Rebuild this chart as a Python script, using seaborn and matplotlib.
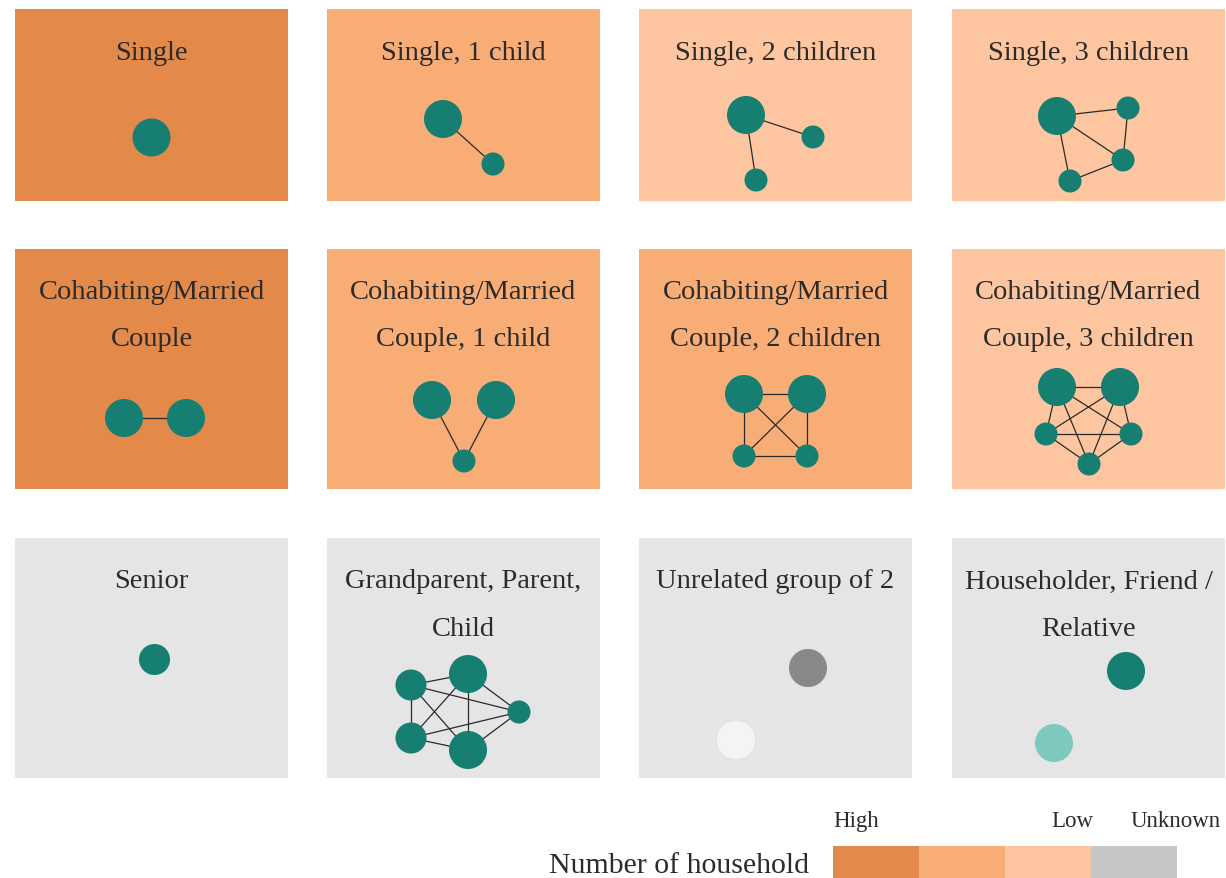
import numpy as np
import pandas as pd
import seaborn as sns
import matplotlib.pyplot as plt
from matplotlib.colors import ListedColormap

sns.set_theme(style="white")
plt.rcParams['font.family'] = ['Liberation Serif', 'DejaVu Serif']

# household types, one panel each (row by row)
titles = ["Single", "Single, 1 child", "Single, 2 children", "Single, 3 children",
          "Cohabiting/Married\nCouple", "Cohabiting/Married\nCouple, 1 child",
          "Cohabiting/Married\nCouple, 2 children", "Cohabiting/Married\nCouple, 3 children",
          "Senior", "Grandparent, Parent,\nChild", "Unrelated group of 2",
          "Householder, Friend /\nRelative"]
levels = ["High", "Mid", "Low", "Low",
          "High", "Mid", "Mid", "Low",
          "Unknown", "Unknown", "Unknown", "Unknown"]

# node positions inside each panel (panel pixels, y down)
node_x = [[136], [116, 166], [107, 174, 117], [105, 176, 171, 118],
          [109, 171], [105, 169, 137], [105, 168, 105, 168], [105, 168, 94, 179, 137],
          [139], [84, 141, 192, 84, 141], [169, 97], [174, 102]]
node_y = [[128], [110, 155], [106, 128, 171], [107, 99, 151, 172],
          [169, 169], [151, 151, 212], [145, 145, 207, 207], [138, 138, 185, 185, 215],
          [121], [147, 136, 174, 200, 212], [130, 202], [133, 205]]
node_role = [["big"], ["big", "small"], ["big", "small", "small"], ["big", "small", "small", "small"],
             ["big", "big"], ["big", "big", "small"], ["big", "big", "small", "small"],
             ["big", "big", "small", "small", "small"],
             ["mid"], ["mid", "big", "small", "mid", "big"], ["big", "big"], ["big", "big"]]
node_kind = [["member"] * len(r) for r in node_role]
node_kind[10] = ["unknown", "other"]
node_kind[11] = ["member", "relative"]

k4 = [(0, 1), (0, 2), (0, 3), (1, 2), (1, 3), (2, 3)]
k5 = [(0, 1), (0, 2), (0, 3), (0, 4), (1, 2), (1, 3), (1, 4), (2, 3), (2, 4), (3, 4)]
edges = [[], [(0, 1)], [(0, 1), (0, 2)], [(0, 1), (0, 2), (0, 3), (1, 2), (2, 3)],
         [(0, 1)], [(0, 2), (1, 2)], k4, k5,
         [], k5, [], []]

legend_labels = ["High", "Low", "Unknown"]

level_colors = {"High": "#E3894A", "Mid": "#F8AD76", "Low": "#FEC6A0", "Unknown": "#E5E5E5"}
legend_colors = ["#E3894A", "#F8AD76", "#FEC6A0", "#C6C6C6"]
node_colors = {"member": "#167F71", "unknown": "#888888", "other": "#F4F4F4", "relative": "#7EC8BD"}
node_sizes = {"big": 750, "mid": 500, "small": 275}

W, H = 1226, 879
col_left = [15, 327, 639, 952]
row_top = [10, 250, 539]
row_h = [192, 240, 240]
panel_w = 273

fig = plt.figure(figsize=(W / 100, H / 100), dpi=100)


def px_axes(left, top, w, h):
    return fig.add_axes([left / W, 1 - (top + h) / H, w / W, h / H])


for k, title in enumerate(titles):
    r, c = divmod(k, 4)
    h = row_h[r]
    ax = px_axes(col_left[c], row_top[r], panel_w, h)
    ax.set_facecolor(level_colors[levels[k]])

    xs, ys = node_x[k], node_y[k]
    for i, j in edges[k]:
        ax.plot([xs[i], xs[j]], [ys[i], ys[j]], color="#2a2a2a", lw=0.9, zorder=1)

    df = pd.DataFrame({"x": xs, "y": ys, "role": node_role[k], "kind": node_kind[k]})
    sns.scatterplot(data=df, x="x", y="y", size="role", sizes=node_sizes,
                    hue="kind", palette=node_colors, legend=False,
                    linewidth=0, ax=ax, zorder=2)

    for n, line in enumerate(title.split("\n")):
        ax.text(panel_w / 2, 49.5 + 47 * n, line, ha="center", va="baseline",
                fontsize=20.5, color="#2b2b2b")

    ax.set_xlim(0, panel_w)
    ax.set_ylim(h, 0)
    ax.set(xlabel="", ylabel="", xticks=[], yticks=[])
    for s in ax.spines.values():
        s.set_visible(False)

# legend strip
lax = px_axes(833, 847, 344, 32)
sns.heatmap(np.arange(4).reshape(1, 4), cmap=ListedColormap(legend_colors), cbar=False,
            xticklabels=False, yticklabels=False, linewidths=0, ax=lax)

fig.text(809 / W, 1 - 873 / H, "Number of household", ha="right", va="baseline",
         fontsize=21.5, color="#2b2b2b")
fig.text(833 / W, 1 - 827 / H, legend_labels[0], ha="left", va="baseline", fontsize=16.5, color="#2b2b2b")
fig.text(1093 / W, 1 - 827 / H, legend_labels[1], ha="right", va="baseline", fontsize=16.5, color="#2b2b2b")
fig.text(1131 / W, 1 - 827 / H, legend_labels[2], ha="left", va="baseline", fontsize=16.5, color="#2b2b2b")

fig.savefig("out.png", dpi=100, facecolor="white")
